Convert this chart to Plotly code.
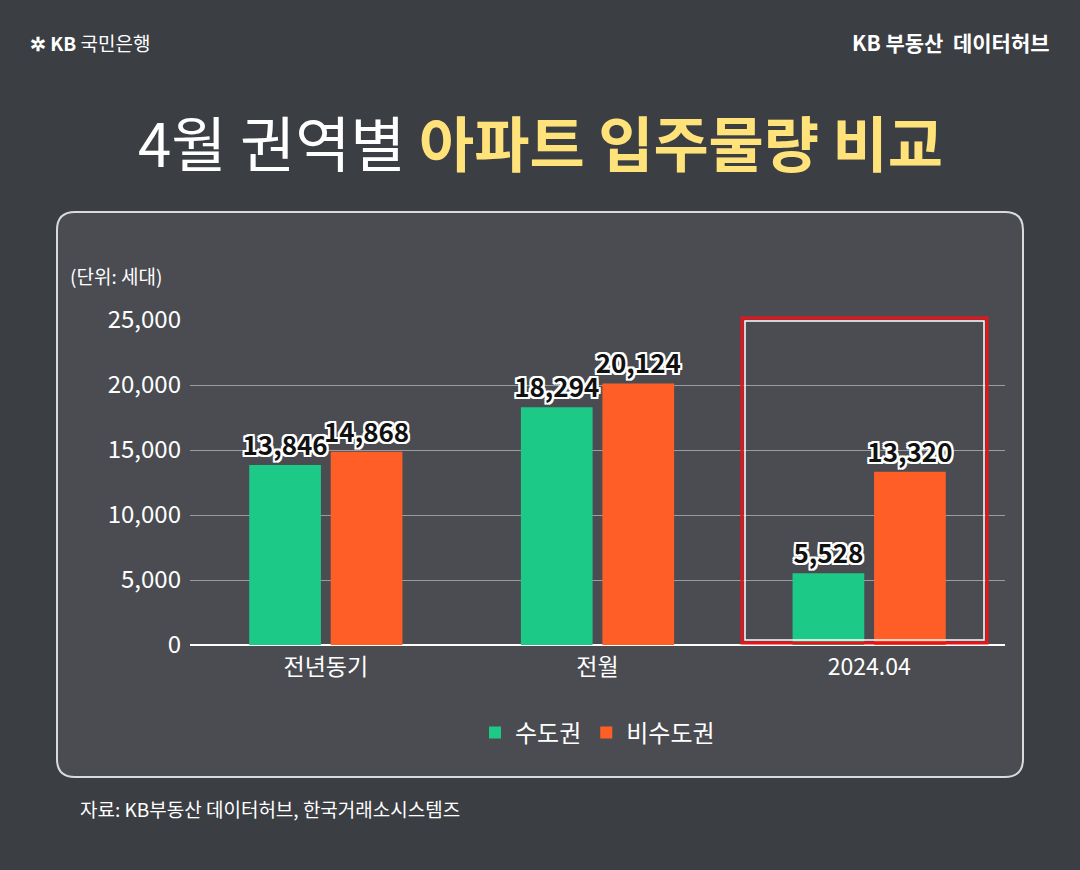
import plotly.graph_objects as go

categories = ["전년동기", "전월", "2024.04"]
metro = [13846, 18294, 5528]
nonmetro = [14868, 20124, 13320]
series_names = ["수도권", "비수도권"]

L, R, T, B = 190, 1005, 320, 645
W, H = 1080, 870
def px(x): return (x - L) / (R - L)
def py(y): return (B - y) / (B - T)

def fmt(v): return f"{v:,}"
shadow = "2px 2px 0 #fff, -2px -2px 0 #fff, 2px -2px 0 #fff, -2px 2px 0 #fff, 0 2px 0 #fff, 2px 0 0 #fff, 0 -2px 0 #fff, -2px 0 0 #fff"
tf = dict(family="Noto Sans CJK KR", size=26, color="#111", weight="bold", shadow=shadow)

fig = go.Figure()
fig.add_bar(x=categories, y=metro, name=series_names[0], marker_color="#1DC987", marker_line_width=0,
            text=[fmt(v) for v in metro], textposition="outside", textfont=tf, cliponaxis=False,
            constraintext="none")
fig.add_bar(x=categories, y=nonmetro, name=series_names[1], marker_color="#FF5F26", marker_line_width=0,
            text=[fmt(v) for v in nonmetro], textposition="outside", textfont=tf, cliponaxis=False,
            constraintext="none")

r = 18
def P(x, y): return f"{px(x)},{py(y)}"
path = (f"M {P(57+r,212)} L {P(1023-r,212)} Q {P(1023,212)} {P(1023,212+r)} "
        f"L {P(1023,777-r)} Q {P(1023,777)} {P(1023-r,777)} L {P(57+r,777)} "
        f"Q {P(57,777)} {P(57,777-r)} L {P(57,212+r)} Q {P(57,212)} {P(57+r,212)} Z")
shapes = [
    dict(type="path", xref="paper", yref="paper", path=path, fillcolor="rgba(80,82,86,0.75)",
         line=dict(color="rgba(235,235,235,0.9)", width=2), layer="below"),
    dict(type="rect", xref="paper", yref="paper", x0=px(742), x1=px(987), y0=py(643), y1=py(318),
         line=dict(color="#E8141B", width=3)),
    dict(type="rect", xref="paper", yref="paper", x0=px(745), x1=px(984), y0=py(640), y1=py(321),
         line=dict(color="#fff", width=1.5)),
]

def A(text, x, y, size, xanchor="center", **kw):
    return dict(text=text, x=px(x), y=py(y), xref="paper", yref="paper", xanchor=xanchor,
                yanchor="middle", showarrow=False,
                font=dict(family="Noto Sans CJK KR", size=size, color=kw.get("color", "#fff")))

ann = [
    A("<span style='color:#fff'>4월 권역별 </span><b><span style='color:#FFE27A'>아파트 입주물량 비교</span></b>",
      540, 140, 60),
    A("(단위: 세대)", 68, 275, 19, "left"),
    A("<b>KB 부동산  데이터허브</b>", 1052, 42, 21, "right"),
    A("<b>✲ KB</b> 국민은행", 28, 42, 19, "left"),
    A("자료: KB부동산 데이터허브, 한국거래소시스템즈", 78, 808, 19, "left"),
]

fig.update_layout(
    width=W, height=H, margin=dict(l=L, r=W-R, t=T, b=H-B),
    paper_bgcolor="#3b3e43", plot_bgcolor="rgba(0,0,0,0)",
    barmode="group", bargap=0.4, bargroupgap=0.12,
    shapes=shapes, annotations=ann, showlegend=True,
    legend=dict(orientation="h", x=0.5, xanchor="center", y=py(733), yanchor="middle",
                bgcolor="rgba(0,0,0,0)",
                font=dict(family="Noto Sans CJK KR", size=24, color="#fff")),
    font=dict(family="Noto Sans CJK KR"),
)
fig.update_yaxes(range=[0, 25000], tickvals=[0, 5000, 10000, 15000, 20000, 25000], tickformat=",",
                 gridcolor="rgba(255,255,255,0.45)", tickfont=dict(size=24, color="#fff"),
                 zeroline=True, zerolinecolor="#fff", zerolinewidth=2, ticklabelstandoff=8)
fig.update_xaxes(tickfont=dict(size=23, color="#fff"), showline=False, ticklabelstandoff=6)
fig.write_html("out.html", config={"displayModeBar": False},
               post_script="document.body.style.margin='0';document.body.style.background='#3b3e43';")
